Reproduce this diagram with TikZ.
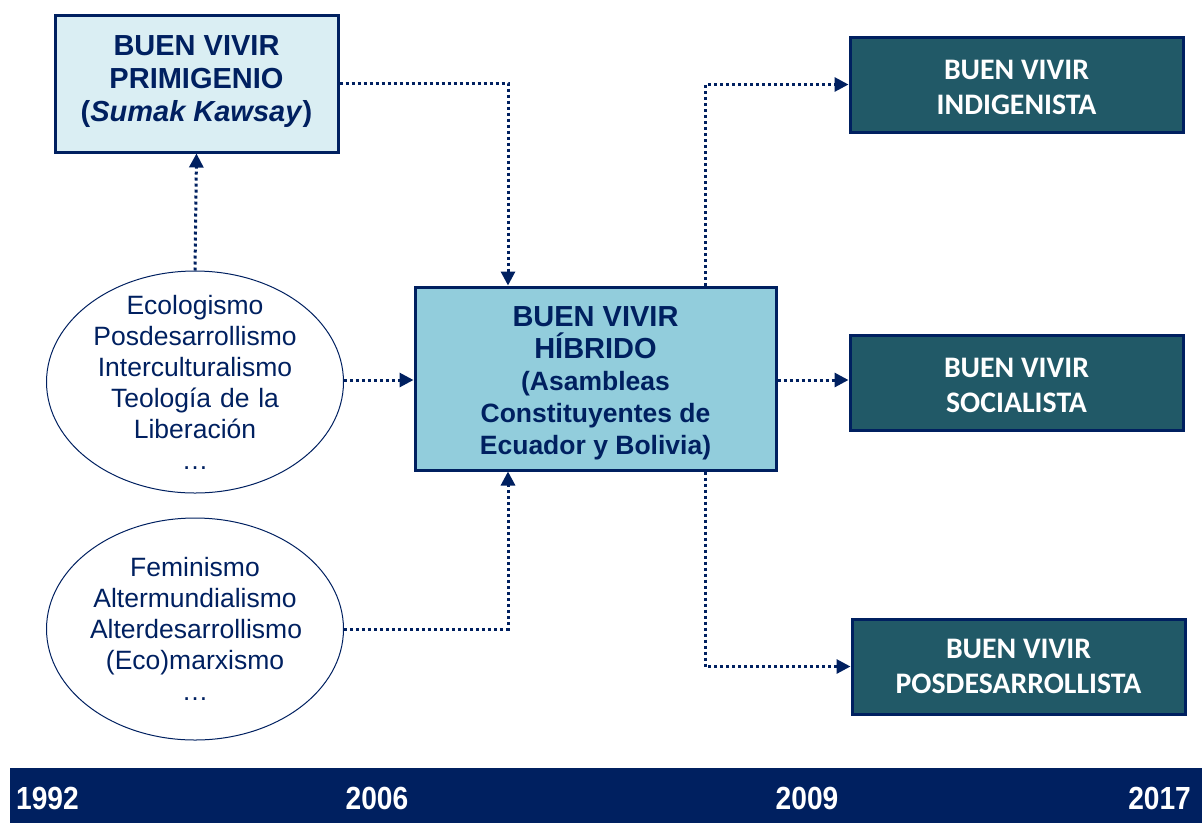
\documentclass[tikz,border=0pt]{standalone}
\usepackage{fontspec}
\setmainfont{Liberation Sans}
\newfontfamily\calibri{Carlito}
\usetikzlibrary{positioning, shapes.geometric, arrows.meta}

\definecolor{navy}{HTML}{002060}
\definecolor{paleblue}{HTML}{DAEEF3}
\definecolor{midblue}{HTML}{92CDDC}
\definecolor{darkteal}{HTML}{215967}

\newcommand{\bigline}{\fontsize{29}{33}\selectfont}

\begin{document}
\begin{tikzpicture}[
    x=1pt, y=-1pt,
    every node/.style={align=center, text=navy},
    origin/.style={rectangle, draw=navy, line width=3pt, fill=paleblue, minimum width=283pt, minimum height=137pt, font=\fontsize{29}{33}\selectfont\bfseries},
    hybrid/.style={rectangle, draw=navy, line width=3pt, fill=midblue, minimum width=361pt, minimum height=183pt, font=\fontsize{26.5}{32}\selectfont\bfseries},
    variant/.style={rectangle, draw=navy, line width=3pt, fill=darkteal, text=white, minimum width=333pt, minimum height=95pt, font=\calibri\fontsize{29.8}{35}\selectfont\bfseries},
    ideas/.style={ellipse, draw=navy, line width=1pt, inner xsep=0pt, inner ysep=-20pt, text width=210pt, minimum width=294pt, minimum height=222pt, font=\fontsize{26.5}{31}\selectfont},
    flow/.style={-{Triangle[length=14pt,width=14pt]}, line width=3pt, dash pattern=on 3pt off 3pt, navy},
    year/.style={text=white, font=\fontsize{32}{34}\selectfont\bfseries, transform shape, xscale=0.88},
]
\useasboundingbox (0,0) rectangle (1202,823);

% Sources
\node[origin] (prim) at (196.5,83.5) {BUEN VIVIR\\PRIMIGENIO\\(\textit{Sumak Kawsay})\rule[-9pt]{0pt}{1pt}};
\node[ideas] (idea1) at (195,382) {Ecologismo\\Posdesarrollismo\\Interculturalismo\\Teología de la\\Liberación\\\dots};
\node[ideas] (idea2) at (195,629) {Feminismo\\Altermundialismo\\Alterdesarrollismo\\(Eco)marxismo\\\dots};

% Hybrid
\node[hybrid] (hyb) at (595.5,378.5) {\rule{0pt}{30pt}{\bigline BUEN VIVIR}\\{\bigline HÍBRIDO}\\(Asambleas\\Constituyentes de\\Ecuador y Bolivia)};

% Variants
\node[variant] (indig) at (1016.5,84.5) {\rule{0pt}{26pt}BUEN VIVIR\\INDIGENISTA};
\node[variant] (soc) at (1016.5,382.5) {\rule{0pt}{26pt}BUEN VIVIR\\SOCIALISTA};
\node[variant] (posd) at (1018.5,666.5) {BUEN VIVIR\\POSDESARROLLISTA};

% Arrows
\coordinate (inx) at (508,0);
\coordinate (outx) at (705,0);
\draw[flow] (idea1.north) -- (prim.south);
\draw[flow] (prim.east |- 0,83) -| (hyb.north -| inx);
\draw[flow] (idea1.east |- 0,380) -- (hyb.west |- 0,380);
\draw[flow] (idea2.east) -| (hyb.south -| inx);
\draw[flow] (hyb.north -| outx) |- (indig.west);
\draw[flow] (hyb.east |- 0,380) -- (soc.west |- 0,380);
\draw[flow] (hyb.south -| outx) |- (posd.west);

% Timeline
\node[rectangle, fill=navy, minimum width=1192pt, minimum height=55pt, inner sep=0pt] (line) at (606,795.5) {};
\node[year, anchor=west] (y1) at (13,798) {1992};
\node[year] (y2) at (377,798) {2006};
\node[year] (y3) at (807,798) {2009};
\node[year, anchor=east] (y4) at (1194,798) {2017};

\end{tikzpicture}
\end{document}
